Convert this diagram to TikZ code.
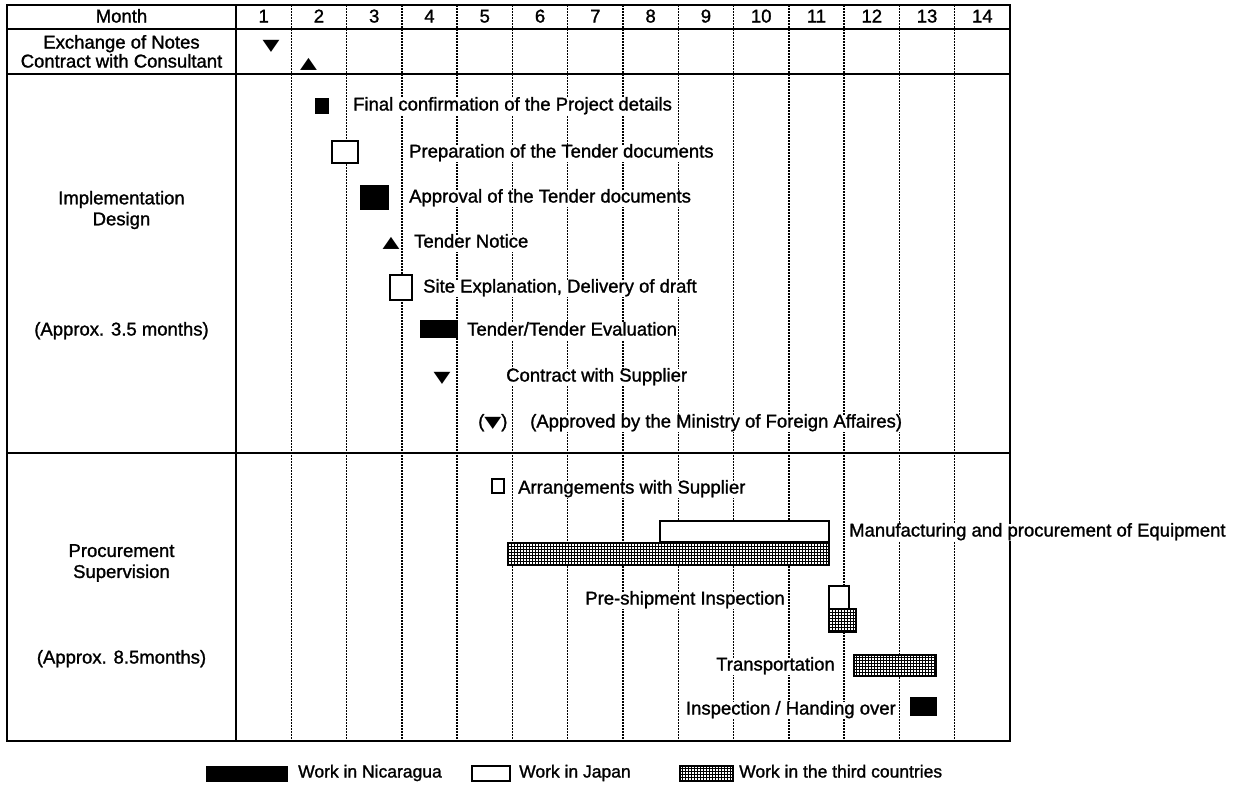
\documentclass[tikz,border=0pt]{standalone}
\usepackage{fontspec}
\setmainfont{Liberation Sans}
\newfontfamily\heavyfont{Liberation Sans}[FakeBold=1.3]
\newfontfamily\dvfont{DejaVu Sans}
\usetikzlibrary{patterns}
\pgfdeclarepatternformonly{gridtex}{\pgfpoint{-0.5pt}{-0.5pt}}{\pgfpoint{3.5pt}{3.5pt}}{\pgfpoint{3pt}{3pt}}{%
  \pgfsetlinewidth{1.1pt}%
  \pgfpathmoveto{\pgfpoint{0pt}{1.5pt}}\pgfpathlineto{\pgfpoint{3pt}{1.5pt}}%
  \pgfpathmoveto{\pgfpoint{1.5pt}{0pt}}\pgfpathlineto{\pgfpoint{1.5pt}{3pt}}%
  \pgfusepath{stroke}}
\newcommand\tridown{{\dvfont\fontsize{22}{22}\selectfont\scalebox{1}[0.72]{▼}}}
\newcommand\triup{{\dvfont\fontsize{22}{22}\selectfont\scalebox{1}[0.72]{▲}}}
\newcommand\gbox[6]{\node[#1, minimum width={#5-#3}, minimum height={#6-#4}] (#2) at ({(#3+#5)/2},{(#4+#6)/2}) {};}
\begin{document}
\begin{tikzpicture}[x=1pt,y=-1pt,
  font=\heavyfont\fontsize{18.5}{21}\selectfont,
  frameline/.style={line width=1.8pt},
  vline/.style={line width=1.5pt, dash pattern=on 1.5pt off 1.5pt},
  txt/.style={inner sep=0pt, text height=13pt, text depth=4pt},
  lbl/.style={txt, fill=white, inner xsep=1pt, anchor=west},
  rlbl/.style={lbl, anchor=east},
  leg/.style={lbl, font=\heavyfont\fontsize{17.5}{20}\selectfont},
  trimark/.style={inner sep=0pt},
  nic/.style={fill=black, draw=black, line width=1pt, inner sep=0pt},
  jap/.style={fill=white, draw=black, line width=1.6pt, inner sep=0pt},
  third/.style={draw=black, line width=1.6pt, preaction={fill=white}, pattern=gridtex, inner sep=0pt},
]
\useasboundingbox (0,0) rectangle (1242,785);
% grid
\foreach \k in {1,...,13} {
  \draw[vline] ({236+\k*55.2857},5) -- ({236+\k*55.2857},741);
}
\draw[frameline] (7,5) rectangle (1010,741);
\draw[frameline] (7,29) -- (1010,29);
\draw[frameline] (7,74) -- (1010,74);
\draw[frameline] (7,453) -- (1010,453);
\draw[frameline] (236,5) -- (236,741);
% header
\node[txt] (month) at (121.5,18) {Month};
\foreach \k in {1,...,14} {
  \node[txt] (m\k) at ({236+(\k-0.5)*55.2857},18) {\k};
}
\node[txt] (eon) at (121.5,44) {Exchange of Notes};
\node[txt] (cwc) at (121.5,63) {Contract with Consultant};
\node[trimark] (eonm) at (271,46) {\tridown};
\node[trimark] (cwcm) at (308.5,64) {\triup};
% left labels
\node[align=center, inner sep=0pt] (impl) at (121.5,210) {Implementation\\Design};
\node[txt] (impla) at (121.5,331) {(Approx. 3.5 months)};
\node[align=center, inner sep=0pt] (proc) at (121.5,563) {Procurement\\Supervision};
\node[txt] (proca) at (121.5,659) {(Approx. 8.5months)};
% implementation design
\gbox{nic}{fc}{315}{98}{328}{113}
\node[lbl] (fct) at (352,106) {Final confirmation of the Project details};
\gbox{jap}{prep}{332}{141}{358}{163}
\node[lbl] (prept) at (408,153) {Preparation of the Tender documents};
\gbox{nic}{appr}{360}{185}{388}{209}
\node[lbl] (apprt) at (408,198) {Approval of the Tender documents};
\node[trimark] (tn) at (391,243) {\triup};
\node[lbl] (tnt) at (413,243) {Tender Notice};
\gbox{jap}{site}{390}{275}{412}{300}
\node[lbl] (sitet) at (422,288) {Site Explanation, Delivery of draft};
\gbox{nic}{tend}{420}{320}{457}{337}
\node[lbl] (tendt) at (466,331) {Tender/Tender Evaluation};
\node[trimark] (cs) at (442,378) {\tridown};
\node[lbl] (cst) at (505,377) {Contract with Supplier};
\node[lbl] (mofa) at (477,423) {(\tridown)};
\node[lbl] (mofat) at (529,423) {(Approved by the Ministry of Foreign Affaires)};
% procurement supervision
\gbox{jap}{arr}{492}{479}{504}{493}
\node[lbl] (arrt) at (517,489) {Arrangements with Supplier};
\gbox{jap}{manj}{660}{521}{829}{542}
\gbox{third}{mant}{508}{543}{829}{565}
\node[lbl] (mantx) at (848,532) {Manufacturing and procurement of Equipment};
\gbox{jap}{prej}{829}{586}{849}{609}
\gbox{third}{pret}{829}{609}{856}{632}
\node[rlbl] (pretx) at (786,600) {Pre-shipment Inspection};
\gbox{third}{trans}{854}{655}{936}{676}
\node[rlbl] (transt) at (836,666) {Transportation};
\gbox{nic}{insp}{910}{697}{936}{715}
\node[rlbl] (inspt) at (897,710) {Inspection / Handing over};
% legend
\gbox{nic}{lgn}{206}{766}{287}{781}
\node[leg] (lgnt) at (297,773) {Work in Nicaragua};
\gbox{jap}{lgj}{472}{766}{510}{781}
\node[leg] (lgjt) at (518,773) {Work in Japan};
\gbox{third}{lgt}{680}{766}{733}{781}
\node[leg] (lgtt) at (738,773) {Work in the third countries};
\end{tikzpicture}
\end{document}
